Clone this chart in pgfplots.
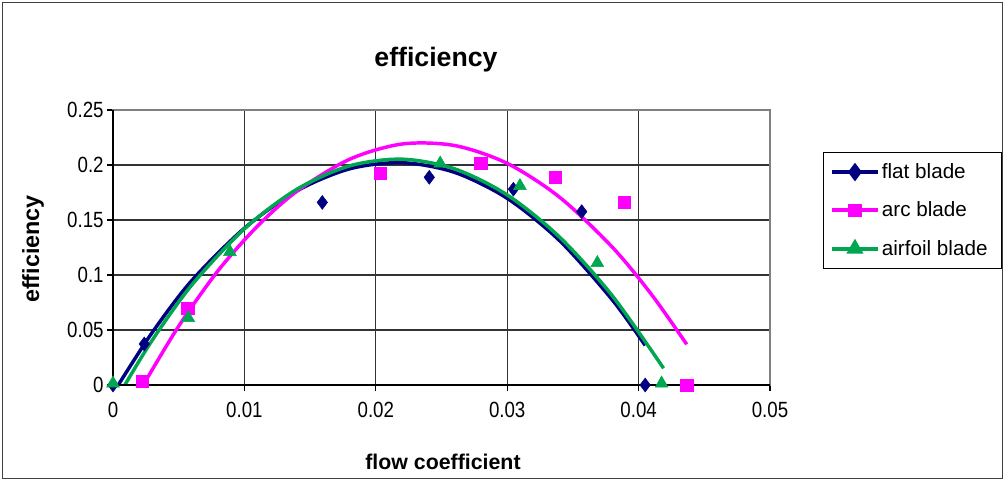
\documentclass[border=0pt]{standalone}
\usepackage{pgfplots}
\pgfplotsset{compat=1.18}
\usepackage{fontspec}
\setmainfont{Liberation Sans}
\newfontfamily\ticksans[FakeStretch=0.85]{Liberation Sans}
\definecolor{navyc}{RGB}{0,0,128}
\definecolor{magc}{RGB}{255,0,255}
\definecolor{grnc}{RGB}{0,166,80}
\begin{document}
\begin{tikzpicture}[x=0.75pt,y=-0.75pt]
\path[use as bounding box] (0,0) rectangle (1005,479);
\draw[black!75, line width=0.75pt] (2.5,2.5) rectangle (1002.5,478);
\begin{axis}[at={(84.75pt,-288.75pt)}, anchor=south west, scale only axis,
  width=492.75pt, height=206.25pt,
  xmin=0, xmax=0.05, ymin=0, ymax=0.25,
  xtick={0,0.01,0.02,0.03,0.04,0.05}, ytick={0,0.05,0.1,0.15,0.2,0.25},
  scaled ticks=false,
  /pgf/number format/assume math mode=true,
  xticklabel style={/pgf/number format/fixed, /pgf/number format/precision=2, yshift=-5pt},
  yticklabel style={/pgf/number format/fixed, /pgf/number format/precision=2, xshift=1pt},
  ticklabel style={font=\ticksans\fontsize{16.5}{19}\selectfont},
  grid=major, major grid style={black!80, line width=0.8pt},
  axis line style={black!50, line width=0.8pt},
  tick align=outside, major tick length=4.5pt, tick style={black, line width=0.8pt},
  xtick pos=bottom, ytick pos=left,
  clip=false,
  legend image code/.code={\draw[mark repeat=2,mark phase=2,#1] plot coordinates {(0pt,0pt) (17.5pt,0pt) (35pt,0pt)};},
  legend style={at={(axis description cs:1.0807,0.847)}, anchor=north west, draw=black, line width=0.9pt,
    font=\fontsize{15.5}{18}\selectfont, inner xsep=4.5pt, inner ysep=7pt, row sep=13.6pt,
    nodes={inner sep=1.2pt}, column sep=0pt},
  legend cell align=left,
]
\addlegendimage{navyc, line width=3pt, mark=diamond*, mark size=4.5pt, mark options={solid}}
\addlegendentry{\makebox[84pt][l]{flat blade}}
\addlegendimage{magc, line width=3pt, mark=square*, mark size=3.5pt}
\addlegendentry{\makebox[84pt][l]{arc blade}}
\addlegendimage{grnc, line width=3pt, mark=triangle*, mark size=4.5pt}
\addlegendentry{\makebox[84pt][l]{airfoil blade}}

% markers
\addplot[only marks, mark=diamond*, mark size=5.2pt, color=navyc, forget plot] coordinates {
 (0,0) (0.00238,0.0373) (0.01593,0.166) (0.02407,0.1888) (0.03047,0.178) (0.03567,0.1576) (0.0405,0)};
\addplot[only marks, mark=square*, mark size=4.6pt, color=magc, forget plot] coordinates {
 (0.00223,0.0036) (0.00568,0.0697) (0.02032,0.1924) (0.02798,0.2015) (0.03364,0.1888) (0.03889,0.166) (0.04366,0)};
\addplot[only marks, mark=triangle*, mark size=5.5pt, color=grnc, forget plot] coordinates {
 (0,0.0015) (0.00573,0.061) (0.0089,0.121) (0.0249,0.2015) (0.03097,0.181) (0.03686,0.111) (0.04175,0.0015)};

% trendlines
\addplot[navyc, line width=2.6pt, smooth, no marks, forget plot] coordinates {
 (0.0004,0) (0.003,0.0480) (0.006,0.0950) (0.010,0.1425) (0.014,0.1765) (0.018,0.1965)
 (0.022,0.2021) (0.026,0.1933) (0.030,0.1697) (0.034,0.1311) (0.038,0.0774) (0.0405,0.036)};
\addplot[magc, line width=2.6pt, smooth, no marks, forget plot] coordinates {
 (0.0023,0) (0.005,0.0535) (0.008,0.1040) (0.011,0.1445) (0.014,0.1762) (0.018,0.2052)
 (0.022,0.2191) (0.026,0.2177) (0.030,0.2015) (0.034,0.1706) (0.038,0.1253) (0.041,0.0820) (0.04366,0.037)};
\addplot[grnc, line width=2.6pt, smooth, no marks, forget plot] coordinates {
 (0.0009,0) (0.003,0.0410) (0.006,0.0910) (0.010,0.1420) (0.014,0.1780) (0.018,0.1992)
 (0.022,0.2053) (0.026,0.1965) (0.030,0.1728) (0.034,0.1343) (0.038,0.0811) (0.0419,0.0152)};

\draw[black, line width=1pt] (axis cs:0,0.25) -- (axis cs:0,0) -- (axis cs:0.05,0);
\end{axis}
\node[font=\bfseries\fontsize{20}{24}\selectfont] at (436,60) {efficiency};
\node[font=\bfseries\fontsize{16}{19}\selectfont] at (443,462) {flow coefficient};
\node[font=\bfseries\fontsize{17.5}{20}\selectfont, rotate=90] at (33,249) {efficiency};
\end{tikzpicture}
\end{document}
